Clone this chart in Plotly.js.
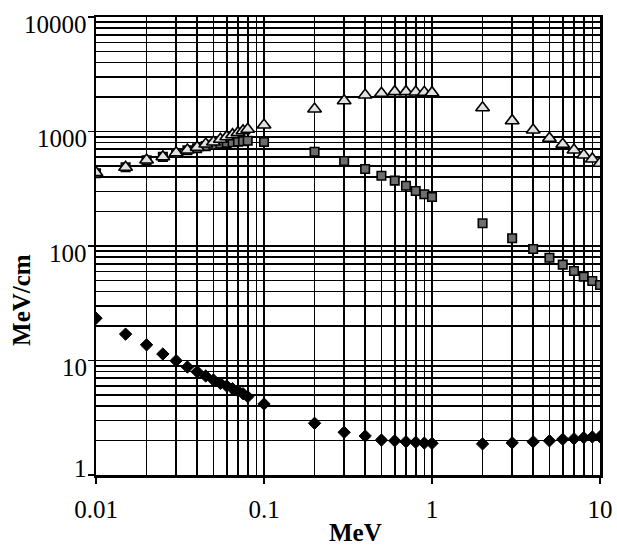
<!DOCTYPE html>
<html>
<head>
<meta charset="utf-8">
<script src="https://cdn.plot.ly/plotly-3.0.1.min.js"></script>
<style>html,body{margin:0;padding:0;background:#fff;}#chart{width:617px;height:547px;}</style>
</head>
<body>
<div id="chart"></div>
<script>
// Energy (MeV)
var energy = [0.01,0.015,0.02,0.025,0.03,0.035,0.04,0.045,0.05,0.055,0.06,0.065,0.07,0.075,0.08,0.1,
  0.2,0.3,0.4,0.5,0.6,0.7,0.8,0.9,1,2,3,4,5,6,7,8,9,10];
// Series values (MeV/cm)
var seriesDiamond = [23.4,17.0,13.7,11.4,9.96,8.77,7.98,7.32,6.76,6.32,5.99,5.67,5.42,5.13,4.83,4.17,
  2.83,2.36,2.19,2.02,1.99,1.95,1.93,1.90,1.89,1.87,1.91,1.95,1.99,2.05,2.07,2.12,2.15,2.16];
var seriesSquare = [432,487,560,600,648,685,715,745,765,780,795,805,815,822,830,812,
  666,552,470,411,372,336,302,283,268,158,117,94.2,79,68.7,60.5,54,49.4,45.6];
var seriesTriangle = [437,487,564,602,653,689,727,778,809,855,901,938,977,1016,1045,1140,
  1573,1857,2083,2156,2228,2228,2213,2200,2183,1614,1243,1031,872,773,689,623,576,528];
// Tick labels
var xTickVals = [0.01,0.1,1,10];
var xTickText = ["0.01","0.1","1","10"];
var yTickVals = [1,10,100,1000,10000];
var yTickText = ["1","10","100","1000","10000"];

function logGrid(lo, hi){
  var out = [];
  for (var d = lo; d < hi; d++){
    for (var k = 2; k <= 9; k++){ out.push(k * Math.pow(10, d)); }
  }
  return out;
}

var serif = "'Liberation Serif', 'Times New Roman', serif";

var traces = [
  {x: energy, y: seriesDiamond, type: 'scatter', mode: 'markers',
   marker: {symbol: 'diamond', size: 9.5, color: '#000000', line: {color: '#000000', width: 1}}},
  {x: energy, y: seriesSquare, type: 'scatter', mode: 'markers',
   marker: {symbol: 'square', size: 8.5, color: '#6e6e6e', line: {color: '#000000', width: 1.6}}},
  {x: energy, y: seriesTriangle, type: 'scatter', mode: 'markers',
   marker: {symbol: 'triangle-up', size: 12, color: '#e2e2e2', line: {color: '#000000', width: 1.6}}}
];

var axisCommon = {
  type: 'log', showline: true, linecolor: '#000', linewidth: 2.5, mirror: true,
  ticks: 'outside', ticklen: 6, tickwidth: 1.5, tickcolor: '#000',
  showgrid: true, gridcolor: '#000', gridwidth: 1.6, zeroline: false,
  tickfont: {family: serif, size: 25, color: '#000'}
};

var yLabelAnnotations = yTickVals.map(function(v, i){
  return {text: yTickText[i], xref: 'paper', yref: 'y', x: -0.014, y: Math.log10(v),
    xanchor: 'right', yanchor: 'middle', yshift: (v === 1 ? 7 : -7), showarrow: false,
    font: {family: serif, size: 25, color: '#000'}};
});

var layout = {
  width: 617, height: 547,
  margin: {l: 96, r: 17, t: 17, b: 72},
  paper_bgcolor: '#fff', plot_bgcolor: '#fff',
  showlegend: false,
  xaxis: Object.assign({}, axisCommon, {
    range: [-2, 1], tickmode: 'array', tickvals: xTickVals, ticktext: xTickText,
    ticklabelstandoff: 4,
    minor: {tickmode: 'array', tickvals: logGrid(-2, 1), showgrid: true, gridcolor: '#000', gridwidth: 1.6, ticks: ''}
  }),
  yaxis: Object.assign({}, axisCommon, {
    range: [0, 4], tickmode: 'array', tickvals: yTickVals, ticktext: yTickText,
    showticklabels: false,
    minor: {tickmode: 'array', tickvals: logGrid(0, 4), showgrid: true, gridcolor: '#000', gridwidth: 1.6, ticks: ''}
  }),
  annotations: yLabelAnnotations.concat([
    {text: '<b>MeV</b>', xref: 'paper', yref: 'paper', x: 0.514, y: -0.125,
     xanchor: 'center', yanchor: 'middle', showarrow: false,
     font: {family: serif, size: 25, color: '#000'}},
    {text: '<b>MeV/cm</b>', xref: 'paper', yref: 'paper', x: -0.149, y: 0.382,
     xanchor: 'center', yanchor: 'middle', textangle: -90, showarrow: false,
     font: {family: serif, size: 25, color: '#000'}}
  ])
};

Plotly.newPlot('chart', traces, layout, {displayModeBar: false, staticPlot: true});
</script>
</body>
</html>
